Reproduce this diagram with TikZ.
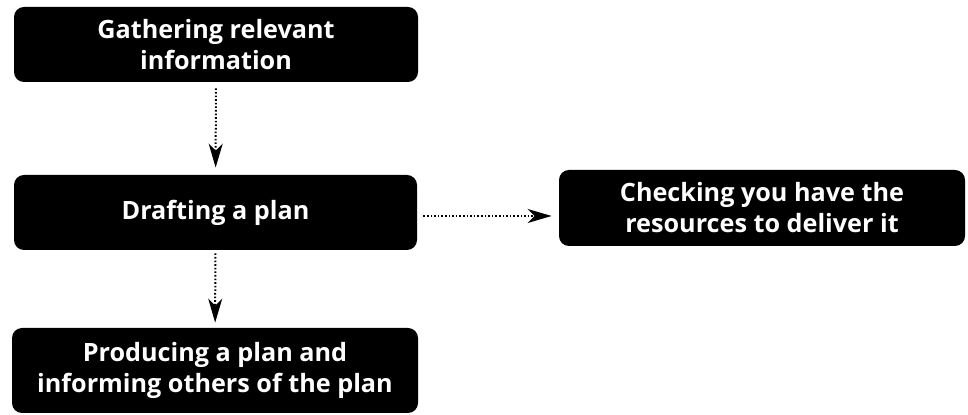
\documentclass[tikz,border=0pt]{standalone}
\usepackage{fontspec}
\setmainfont{Open Sans}
\usetikzlibrary{arrows.meta}
\begin{document}
\begin{tikzpicture}[x=0.5pt,y=-0.5pt,
  box/.style={fill=black,rounded corners=5pt,text=white,align=center,
    font=\bfseries\fontsize{12.6}{15.5}\selectfont,inner sep=0pt},
  conn/.style={line width=1pt,dash pattern=on 0.8pt off 1pt,
    -{Stealth[length=12pt,width=7pt,inset=3.5pt]}}]
\useasboundingbox (0,0) rectangle (968,415);
\node[box,minimum width=202pt,minimum height=37.5pt] (g) at (216,44.5) {Gathering relevant\\information};
\node[box,minimum width=201.5pt,minimum height=37.5pt] (d) at (215.5,212.5) {Drafting a plan};
\node[box,minimum width=203pt,minimum height=38pt] (c) at (762,208) {Checking you have the\\resources to deliver it};
\node[box,minimum width=203pt,minimum height=42.5pt] (p) at (215,370.5) {Producing a plan and\\informing others of the plan};
\draw[conn,shorten <=3pt,shorten >=3.5pt] (g) -- (d);
\draw[conn,shorten <=1.5pt,shorten >=2.5pt] (d) -- (p);
\draw[conn,shorten <=3pt,shorten >=3.5pt] ([yshift=-1.75pt]d.east) -- ([yshift=-1.75pt]d.east -| c.west);
\end{tikzpicture}
\end{document}
